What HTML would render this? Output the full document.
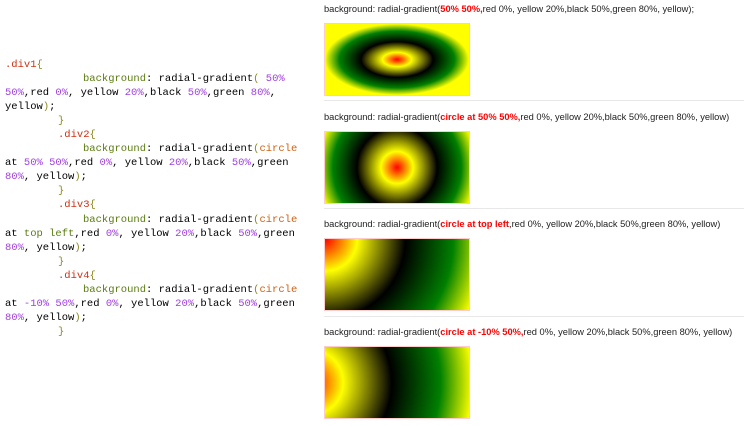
<!DOCTYPE html>
<html><head><meta charset="utf-8"><style>
body{margin:0;width:745px;height:426px;background:#fff;position:relative;overflow:hidden;font-family:"Liberation Sans",sans-serif}
.code{position:absolute;left:5px;top:58px;font-family:"Liberation Mono",monospace;font-size:10.5px;line-height:14.05px;color:#000;white-space:pre}
.code div{height:14.05px}
.s{color:#d03010}.k{color:#5a7d10}.n{color:#a040e0}.p{color:#8a8a20}.o{color:#d06010}
.lbl{position:absolute;left:324px;font-size:9.3px;color:#222;white-space:nowrap}
.lbl b{color:#f00}
.box{position:absolute;left:324px;width:146px;height:73px;box-sizing:border-box;border:1px solid #fcc}
.sep{position:absolute;left:324px;width:420px;height:1px;background:#e8e8e8}
</style></head><body>
<div class="code"><div><span class="s">.div1</span><span class="p">{</span></div><div style="padding-left:78px"><span class="k">background</span>: radial-gradient<span class="p">(</span> <span class="n">50%</span></div><div><span class="n">50%</span>,red <span class="n">0%</span>, yellow <span class="n">20%</span>,black <span class="n">50%</span>,green <span class="n">80%</span>,</div><div>yellow<span class="p">)</span>;</div><div style="padding-left:53px"><span class="p">}</span></div><div style="padding-left:53px"><span class="s">.div2</span><span class="p">{</span></div><div style="padding-left:78px"><span class="k">background</span>: radial-gradient<span class="p">(</span><span class="o">circle</span></div><div>at <span class="n">50% 50%</span>,red <span class="n">0%</span>, yellow <span class="n">20%</span>,black <span class="n">50%</span>,green</div><div><span class="n">80%</span>, yellow<span class="p">)</span>;</div><div style="padding-left:53px"><span class="p">}</span></div><div style="padding-left:53px"><span class="s">.div3</span><span class="p">{</span></div><div style="padding-left:78px"><span class="k">background</span>: radial-gradient<span class="p">(</span><span class="o">circle</span></div><div>at <span class="k">top left</span>,red <span class="n">0%</span>, yellow <span class="n">20%</span>,black <span class="n">50%</span>,green</div><div><span class="n">80%</span>, yellow<span class="p">)</span>;</div><div style="padding-left:53px"><span class="p">}</span></div><div style="padding-left:53px"><span class="s">.div4</span><span class="p">{</span></div><div style="padding-left:78px"><span class="k">background</span>: radial-gradient<span class="p">(</span><span class="o">circle</span></div><div>at <span class="n">-10% 50%</span>,red <span class="n">0%</span>, yellow <span class="n">20%</span>,black <span class="n">50%</span>,green</div><div><span class="n">80%</span>, yellow<span class="p">)</span>;</div><div style="padding-left:53px"><span class="p">}</span></div></div>

<div class="lbl" style="top:4px">background: radial-gradient(<b>50% 50%,</b>red 0%, yellow 20%,black 50%,green 80%, yellow);</div>
<div class="box" style="top:23px;background:radial-gradient(50% 50%,red 0%,yellow 20%,black 50%,green 80%,yellow)"></div>
<div class="sep" style="top:100px"></div>

<div class="lbl" style="top:112px">background: radial-gradient(<b>circle at 50% 50%,</b>red 0%, yellow 20%,black 50%,green 80%, yellow)</div>
<div class="box" style="top:131px;background:radial-gradient(circle at 50% 50%,red 0%,yellow 20%,black 50%,green 80%,yellow)"></div>
<div class="sep" style="top:208px"></div>

<div class="lbl" style="top:219px">background: radial-gradient(<b>circle at top left</b>,red 0%, yellow 20%,black 50%,green 80%, yellow)</div>
<div class="box" style="top:238px;background:radial-gradient(circle at top left,red 0%,yellow 20%,black 50%,green 80%,yellow)"></div>
<div class="sep" style="top:316px"></div>

<div class="lbl" style="top:327px">background: radial-gradient(<b>circle at -10% 50%,</b>red 0%, yellow 20%,black 50%,green 80%, yellow)</div>
<div class="box" style="top:346px;background:radial-gradient(circle at -10% 50%,red 0%,yellow 20%,black 50%,green 80%,yellow)"></div>
</body></html>
